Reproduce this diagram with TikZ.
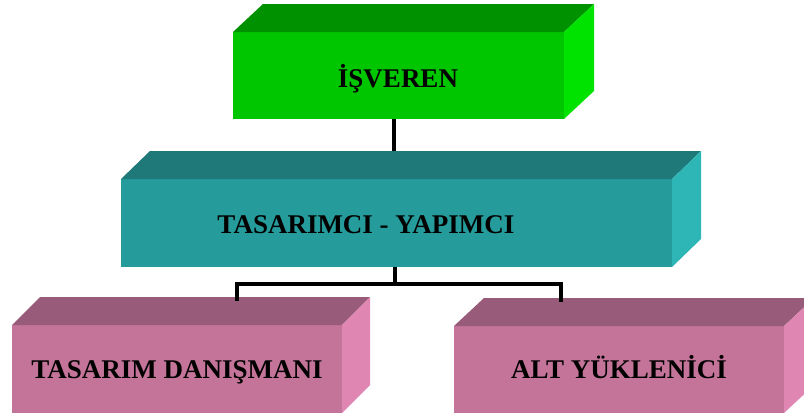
\documentclass[tikz,border=0pt]{standalone}
\usepackage{fontspec}
\setmainfont{Liberation Serif}
\begin{document}
\begin{tikzpicture}[x=1pt,y=-1pt,
  face/.style={inner sep=0pt,outer sep=0pt},
  caption/.style={anchor=base,inner sep=0pt,font=\bfseries\fontsize{27}{32}\selectfont,text=black},
  conn/.style={line width=4pt,draw=black}]
\definecolor{grF}{RGB}{0,198,0}
\definecolor{grT}{RGB}{0,145,0}
\definecolor{grS}{RGB}{0,226,0}
\definecolor{tlF}{RGB}{38,155,155}
\definecolor{tlT}{RGB}{30,121,120}
\definecolor{tlS}{RGB}{46,181,181}
\definecolor{pkF}{RGB}{196,116,153}
\definecolor{pkT}{RGB}{152,91,121}
\definecolor{pkS}{RGB}{224,134,179}
\useasboundingbox (0,0) rectangle (804,418);
\fill[white] (0,0) rectangle (804,418);

% solid box: front face node plus top and right faces
\newcommand{\boxfaces}[5]{%
  \fill[#4] (#1.north west) -- ++(#2,#3) -- ([shift={(#2,#3)}]#1.north east) -- (#1.north east) -- cycle;
  \fill[#5] (#1.north east) -- ++(#2,#3) -- ([shift={(#2,#3)}]#1.south east) -- (#1.south east) -- cycle;}

% employer
\node[face,fill=grF,minimum width=331pt,minimum height=87pt] (isv) at (398.5,75.5) {};
\boxfaces{isv}{30}{-28}{grT}{grS}
\node[caption] (isvlbl) at (398,87) {İŞVEREN};

% design-build contractor
\node[face,fill=tlF,minimum width=551pt,minimum height=88pt] (tas) at (396.5,223) {};
\boxfaces{tas}{29}{-28}{tlT}{tlS}
\node[caption] (taslbl) at (366,233) {TASARIMCI - YAPIMCI};

% design consultant
\node[face,fill=pkF,minimum width=330pt,minimum height=88pt] (dan) at (177,369) {};
\boxfaces{dan}{28}{-28}{pkT}{pkS}
\node[caption] (danlbl) at (177,378) {TASARIM DANIŞMANI};

% subcontractor
\node[face,fill=pkF,minimum width=330pt,minimum height=87pt] (alt) at (619,369.5) {};
\boxfaces{alt}{30}{-28}{pkT}{pkS}
\node[caption] (altlbl) at (619,378) {ALT YÜKLENİCİ};

% connectors
\coordinate (tasin) at (393.5,151);
\coordinate (hub) at (395,283.5);
\coordinate (danin) at (237,301);
\coordinate (altin) at (561,302);
\draw[conn] (isv.south -| tasin) -- (tasin);
\draw[conn] (tas.south -| hub) -- (hub) -| (danin);
\draw[conn] (hub) -| (altin);
\end{tikzpicture}
\end{document}
